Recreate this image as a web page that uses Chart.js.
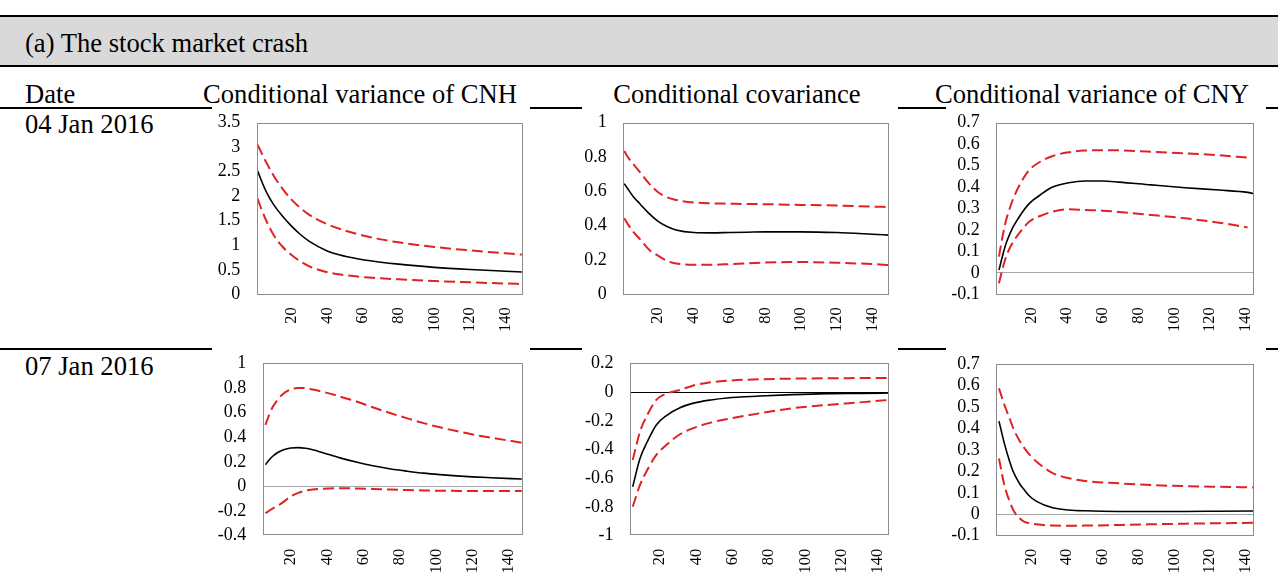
<!DOCTYPE html>
<html>
<head>
<meta charset="utf-8">
<title>The stock market crash</title>
<script src="https://cdn.jsdelivr.net/npm/chart.js@4.4.0/dist/chart.umd.min.js"></script>
<style>
  html, body { margin: 0; padding: 0; background: #fff; }
  #page { position: relative; width: 1278px; height: 581px; overflow: hidden;
          font-family: "Liberation Serif", "Times New Roman", serif; color: #000; }
  .band { position: absolute; left: 0; top: 17px; width: 1278px; height: 48px; background: #d9d9d9; }
  .rule { position: absolute; left: 0; width: 1278px; background: #000; }
  .txt  { position: absolute; font-size: 26.6px; line-height: 1; white-space: nowrap; }
  .head { text-align: center; }
  canvas { position: absolute; display: block; background: #fff; }
</style>
</head>
<body>
<div id="page">
  <div class="band"></div>
  <div class="rule" style="top:15px;height:2px"></div>
  <div class="rule" style="top:65px;height:2px"></div>
  <div class="rule" style="top:107px;height:2px"></div>
  <div class="rule" style="top:348px;height:2px"></div>
  <div id="title" class="txt" style="left:25px;top:30px"></div>
  <div id="dateHead" class="txt" style="left:25px;top:81px"></div>
  <div id="col0" class="txt head" style="left:200px;width:320px;top:81px"></div>
  <div id="col1" class="txt head" style="left:577px;width:320px;top:81px"></div>
  <div id="col2" class="txt head" style="left:932px;width:320px;top:81px"></div>
  <div id="row0" class="txt" style="left:25px;top:111px"></div>
  <div id="row1" class="txt" style="left:25px;top:353px"></div>
</div>
<script>
// ---- labels ----
const panelTitle = '(a) The stock market crash';
const dateHeader = 'Date';
const columnTitles = ['Conditional variance of CNH', 'Conditional covariance', 'Conditional variance of CNY'];
const dates = ['04 Jan 2016', '07 Jan 2016'];
const xTicks = [20, 40, 60, 80, 100, 120, 140];

// ---- y-axis tick labels ----
const yTicksCnhJan04 = [0, 0.5, 1, 1.5, 2, 2.5, 3, 3.5];
const yTicksCovJan04 = [0, 0.2, 0.4, 0.6, 0.8, 1];
const yTicksCnyJan04 = [-0.1, 0, 0.1, 0.2, 0.3, 0.4, 0.5, 0.6, 0.7];
const yTicksCnhJan07 = [-0.4, -0.2, 0, 0.2, 0.4, 0.6, 0.8, 1];
const yTicksCovJan07 = [-1, -0.8, -0.6, -0.4, -0.2, 0, 0.2];
const yTicksCnyJan07 = [-0.1, 0, 0.1, 0.2, 0.3, 0.4, 0.5, 0.6, 0.7];

// ---- 04 Jan 2016 ----
const hJan04 = [1, 3, 6, 10, 15, 20, 25, 30, 40, 50, 60, 70, 80, 100, 120, 140, 149];
const cnhJan04   = [2.52, 2.33, 2.08, 1.83, 1.59, 1.39, 1.22, 1.08, 0.885, 0.775, 0.705, 0.655, 0.615, 0.55, 0.505, 0.47, 0.455];
const cnhJan04Up = [3.05, 2.90, 2.68, 2.42, 2.15, 1.93, 1.76, 1.62, 1.43, 1.30, 1.20, 1.12, 1.06, 0.965, 0.895, 0.835, 0.81];
const cnhJan04Lo = [1.95, 1.75, 1.49, 1.21, 0.97, 0.80, 0.67, 0.57, 0.45, 0.39, 0.35, 0.325, 0.305, 0.27, 0.245, 0.22, 0.21];

const covJan04   = [0.645, 0.615, 0.57, 0.525, 0.47, 0.425, 0.395, 0.375, 0.36, 0.358, 0.36, 0.362, 0.364, 0.364, 0.36, 0.35, 0.345];
const covJan04Up = [0.835, 0.8, 0.76, 0.71, 0.645, 0.595, 0.565, 0.55, 0.535, 0.53, 0.528, 0.526, 0.525, 0.521, 0.517, 0.511, 0.509];
const covJan04Lo = [0.443, 0.41, 0.365, 0.32, 0.26, 0.225, 0.195, 0.18, 0.172, 0.172, 0.176, 0.181, 0.185, 0.188, 0.184, 0.176, 0.171];

const hCnyJan04 = [2, 4, 6, 8, 10, 14, 19, 25, 32, 41, 50, 60, 69, 87, 106, 125, 141, 144];
const cnyJan04   = [0.013, 0.08, 0.138, 0.18, 0.215, 0.27, 0.324, 0.363, 0.4, 0.42, 0.428, 0.428, 0.423, 0.41, 0.397, 0.386, 0.375, 0.37];
const cnyJan04Up = [0.076, 0.17, 0.246, 0.30, 0.347, 0.417, 0.48, 0.518, 0.545, 0.562, 0.57, 0.572, 0.571, 0.565, 0.557, 0.548, 0.537, null];
const cnyJan04Lo = [-0.049, 0.02, 0.076, 0.115, 0.146, 0.192, 0.239, 0.265, 0.285, 0.296, 0.293, 0.29, 0.284, 0.27, 0.254, 0.234, 0.212, null];

// ---- 07 Jan 2016 ----
const hCnhJan07 = [6, 8, 10, 13, 16, 20, 24, 28, 32, 38, 47, 56, 65, 75, 84, 93, 102, 111, 120, 130, 147];
const cnhJan07   = [0.176, 0.215, 0.245, 0.278, 0.298, 0.312, 0.315, 0.31, 0.298, 0.272, 0.232, 0.198, 0.168, 0.142, 0.124, 0.108, 0.096, 0.086, 0.078, 0.071, 0.06];
const cnhJan07Up = [0.5, 0.58, 0.645, 0.71, 0.755, 0.788, 0.8, 0.798, 0.787, 0.767, 0.73, 0.69, 0.643, 0.594, 0.553, 0.514, 0.48, 0.45, 0.422, 0.396, 0.355];
const cnhJan07Lo = [-0.218, -0.198, -0.178, -0.155, -0.125, -0.08, -0.052, -0.034, -0.025, -0.018, -0.015, -0.016, -0.02, -0.025, -0.029, -0.032, -0.035, -0.036, -0.037, -0.037, -0.037];

const hCovJan07 = [5, 9, 13, 18, 24, 31, 38, 48, 57, 75, 93, 112, 130, 146];
const covJan07   = [-0.659, -0.462, -0.346, -0.229, -0.16, -0.109, -0.079, -0.055, -0.041, -0.028, -0.018, -0.011, -0.009, -0.007];
const covJan07Up = [-0.473, -0.276, -0.16, -0.055, -0.009, 0.014, 0.044, 0.068, 0.079, 0.089, 0.093, 0.096, 0.097, 0.098];
const covJan07Lo = [-0.798, -0.647, -0.543, -0.438, -0.364, -0.294, -0.253, -0.213, -0.188, -0.148, -0.113, -0.09, -0.072, -0.055];

const hCnyJan07 = [2, 5, 8, 10, 12, 14, 16, 19, 23, 32, 41, 50, 69, 87, 106, 124, 144];
const cnyJan07   = [0.434, 0.33, 0.245, 0.198, 0.165, 0.136, 0.115, 0.085, 0.06, 0.03, 0.02, 0.016, 0.013, 0.013, 0.013, 0.014, 0.015];
const cnyJan07Up = [0.587, 0.51, 0.445, 0.40, 0.365, 0.335, 0.31, 0.278, 0.245, 0.192, 0.168, 0.155, 0.144, 0.136, 0.131, 0.128, 0.125];
const cnyJan07Lo = [0.26, 0.136, 0.058, 0.02, -0.006, -0.022, -0.034, -0.042, -0.047, -0.053, -0.054, -0.053, -0.05, -0.047, -0.044, -0.042, -0.04];

// ---- page text ----
document.getElementById('title').textContent = panelTitle;
document.getElementById('dateHead').textContent = dateHeader;
columnTitles.forEach((t, i) => { document.getElementById('col' + i).textContent = t; });
dates.forEach((t, i) => { document.getElementById('row' + i).textContent = t; });

// ---- panel layout: canvas box, plot insets and x range ----
const panels = [
  { h: hJan04,    mid: cnhJan04, up: cnhJan04Up, lo: cnhJan04Lo, yt: yTicksCnhJan04, xr: [0.5, 149.5],
    box: [212, 104, 318, 248], inset: { left: 44.7, right: 7.3, top: 18.7, bottom: 57.7 }, zero: null },
  { h: hJan04,    mid: covJan04, up: covJan04Up, lo: covJan04Lo, yt: yTicksCovJan04, xr: [0.5, 149.5],
    box: [582, 104, 316, 248], inset: { left: 41.3, right: 8.7, top: 18.7, bottom: 57.7 }, zero: null },
  { h: hCnyJan04, mid: cnyJan04, up: cnyJan04Up, lo: cnyJan04Lo, yt: yTicksCnyJan04, xr: [0.5, 144.5],
    box: [946, 104, 320, 248], inset: { left: 50.3, right: 10, top: 18.7, bottom: 57.7 }, zero: '#a6a6a6' },
  { h: hCnhJan07, mid: cnhJan07, up: cnhJan07Up, lo: cnhJan07Lo, yt: yTicksCnhJan07, xr: [4.5, 147.5],
    box: [212, 347, 318, 234], inset: { left: 50.7, right: 7.3, top: 16.3, bottom: 45.3 }, zero: '#a6a6a6' },
  { h: hCovJan07, mid: covJan07, up: covJan07Up, lo: covJan07Lo, yt: yTicksCovJan07, xr: [3.5, 146],
    box: [582, 347, 316, 234], inset: { left: 48, right: 8.7, top: 16.3, bottom: 45.3 }, zero: '#000000' },
  { h: hCnyJan07, mid: cnyJan07, up: cnyJan07Up, lo: cnyJan07Lo, yt: yTicksCnyJan07, xr: [0.5, 144.5],
    box: [946, 347, 320, 234], inset: { left: 50.3, right: 10, top: 17, bottom: 45.3 }, zero: '#a6a6a6' }
];

const serif = '"Liberation Serif", "Times New Roman", serif';
const yFont = { family: serif, size: 18 };
const xFont = { family: serif, size: 16.5 };
const RED = '#df2222';

// frame round the plot area
const frame = {
  id: 'frame',
  afterDraw(chart) {
    const a = chart.chartArea, c = chart.ctx;
    c.save();
    c.strokeStyle = '#8c8c8c';
    c.lineWidth = 1;
    c.strokeRect(Math.round(a.left) + 0.5, Math.round(a.top) + 0.5,
                 Math.round(a.right - a.left) - 1, Math.round(a.bottom - a.top) - 1);
    c.restore();
  }
};

function points(h, vals) {
  const out = [];
  h.forEach((x, i) => { if (vals[i] !== null && vals[i] !== undefined) out.push({ x: x, y: vals[i] }); });
  return out;
}

function fmt(v) { return String(Math.round(v * 10) / 10); }

const page = document.getElementById('page');
panels.forEach(p => {
  const cv = document.createElement('canvas');
  cv.width = p.box[2]; cv.height = p.box[3];
  cv.style.left = p.box[0] + 'px'; cv.style.top = p.box[1] + 'px';
  cv.style.width = p.box[2] + 'px'; cv.style.height = p.box[3] + 'px';
  page.appendChild(cv);

  const line = (vals, color, width, dash) => ({
    data: points(p.h, vals), borderColor: color, borderWidth: width, borderDash: dash,
    pointRadius: 0, fill: false, cubicInterpolationMode: 'monotone'
  });

  new Chart(cv.getContext('2d'), {
    type: 'line',
    data: { datasets: [
      line(p.up, RED, 2, [11, 5]),
      line(p.lo, RED, 2, [11, 5]),
      line(p.mid, '#000000', 1.6, [])
    ] },
    options: {
      responsive: false, animation: false, devicePixelRatio: 1,
      layout: { padding: { left: 0, right: p.inset.right, top: p.inset.top, bottom: 0 } },
      plugins: { legend: { display: false }, tooltip: { enabled: false } },
      scales: {
        x: {
          type: 'linear', min: p.xr[0], max: p.xr[1],
          afterBuildTicks: s => { s.ticks = xTicks.map(v => ({ value: v })); },
          afterFit: s => { s.height = p.inset.bottom; },
          grid: { drawOnChartArea: false, drawTicks: true, tickLength: 13,
                  tickColor: 'rgba(0,0,0,0)', color: 'rgba(0,0,0,0)' },
          border: { display: false },
          ticks: { autoSkip: false, minRotation: 90, maxRotation: 90, padding: 0,
                   color: '#000', font: xFont, callback: v => String(v) }
        },
        y: {
          min: p.yt[0], max: p.yt[p.yt.length - 1],
          afterBuildTicks: s => { s.ticks = p.yt.map(v => ({ value: v })); },
          afterFit: s => { s.width = p.inset.left; },
          grid: { drawTicks: true, tickLength: 16, tickColor: 'rgba(0,0,0,0)', lineWidth: 1,
                  color: c => (p.zero && c.tick && Math.abs(c.tick.value) < 1e-9) ? p.zero : 'rgba(0,0,0,0)' },
          border: { display: false },
          ticks: { autoSkip: false, padding: 0.5, color: '#000', font: yFont, callback: v => fmt(v) }
        }
      }
    },
    plugins: [frame]
  });
});
</script>
</body>
</html>
